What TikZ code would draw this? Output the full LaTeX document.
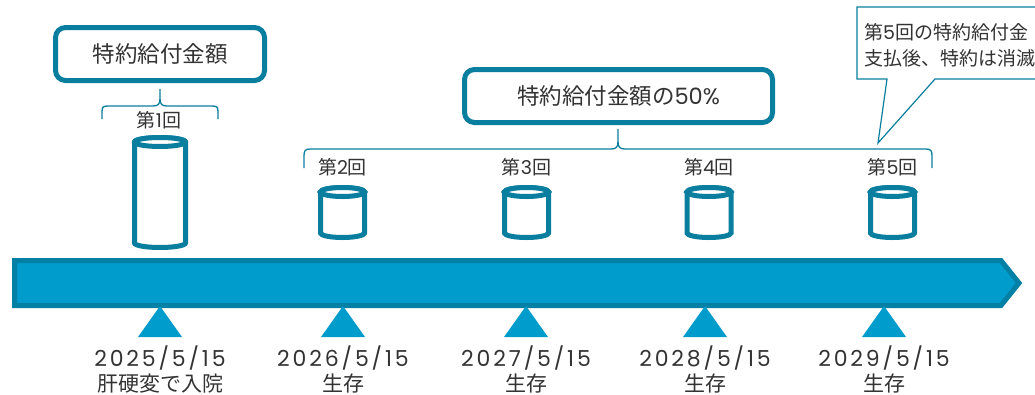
\documentclass[tikz,border=0pt]{standalone}
\usepackage{fontspec}
\setmainfont{Noto Sans CJK JP}
\newfontfamily\datefont[LetterSpace=13]{Poppins}
\newfontfamily\numf{Poppins}
\definecolor{teal1}{HTML}{0A7E9E}
\definecolor{barfill}{HTML}{009CCB}
\definecolor{barline}{HTML}{0580A5}
\definecolor{txt}{HTML}{333333}
\newcommand{\mydrum}[4]{%
  \draw[drum] (#1-#4,#2) -- (#1-#4,#3) arc[start angle=180,end angle=360,x radius=#4,y radius=4.5] -- (#1+#4,#2) arc[start angle=0,end angle=180,x radius=#4,y radius=4.5] -- cycle;
  \draw[drum] (#1,#2) ellipse[x radius=#4, y radius=4.5];}
\begin{document}
\begin{tikzpicture}[x=1pt,y=1pt,
  boxstyle/.style={draw=teal1, line width=5pt, rounded corners=10pt, fill=white, text=txt, font=\fontsize{22.5}{26}\selectfont, inner sep=0pt},
  bracestyle/.style={draw=teal1, line width=1.3pt},
  drum/.style={draw=teal1, line width=5pt, fill=white},
  lbl/.style={text=txt, font=\fontsize{19}{22}\selectfont, inner sep=0pt},
  datestyle/.style={text=txt, font=\datefont\fontsize{22}{26}\selectfont, inner sep=0pt},
  substyle/.style={text=txt, font=\fontsize{21}{24}\selectfont, inner sep=0pt},
  tri/.style={fill=barfill},
  callout/.style={draw=teal1, line width=1.2pt, fill=white}]
\useasboundingbox (0,0) rectangle (1035,-394);
\clip (0,0) rectangle (1035,-394);

% boxes
\node[boxstyle, minimum width=209pt, minimum height=53pt] (b1) at (160,-54) {特約給付金額};
\node[boxstyle, minimum width=308pt, minimum height=53pt] (b2) at (618.5,-96) {特約給付金額の{\numf 50\%}};

% brace 1
\draw[bracestyle] (102,-119) -- (102,-112) .. controls (102,-107) and (103,-106) .. (108,-106) -- (153,-106) .. controls (158,-106) and (160,-104) .. (160,-99) -- (160,-89);
\draw[bracestyle] (160,-99) .. controls (160,-104) and (162,-106) .. (167,-106) -- (212,-106) .. controls (217,-106) and (218,-107) .. (218,-112) -- (218,-119);
% brace 2
\draw[bracestyle] (304,-168) -- (304,-156) .. controls (304,-151) and (305,-149) .. (310,-149) -- (611,-149) .. controls (616,-149) and (618,-147) .. (618,-142) -- (618,-129);
\draw[bracestyle] (618,-142) .. controls (618,-147) and (620,-149) .. (625,-149) -- (926,-149) .. controls (931,-149) and (932,-151) .. (932,-156) -- (932,-168);

% labels
\node[lbl] (l1) at (159,-120) {第{\numf 1}回};
\node[lbl] (l2) at (342.5,-167) {第{\numf 2}回};
\node[lbl] (l3) at (526.5,-167) {第{\numf 3}回};
\node[lbl] (l4) at (709,-167) {第{\numf 4}回};
\node[lbl] (l5) at (892.5,-167) {第{\numf 5}回};

% cylinders
\mydrum{160}{-142}{-243}{25.5}
\mydrum{342.5}{-192}{-233}{22}
\mydrum{526.5}{-192}{-233}{22}
\mydrum{709}{-192}{-233}{22}
\mydrum{892.5}{-192}{-233}{22}

% callout
\draw[callout] (857,-7) -- (1050,-7) -- (1050,-79) -- (935,-79) -- (878,-143) -- (887,-79) -- (857,-79) -- cycle;
\node[anchor=west, align=left, text=txt, font=\fontsize{19}{26}\selectfont, inner sep=0pt] (note) at (864,-45) {第{\numf 5}回の特約給付金\\支払後、特約は消滅};

% timeline bar
\draw[draw=barline, fill=barfill, line width=5pt, line join=miter] (14.5,-260.5) -- (1001,-260.5) -- (1019,-283) -- (1001,-305.5) -- (14.5,-305.5) -- cycle;

% triangles
\foreach \cx in {160,343,526,705,884} {
  \fill[tri] (\cx,-306) -- (\cx+22,-337) -- (\cx-22,-337) -- cycle;
}

% dates
\node[datestyle] (d1) at (160,-358) {2025/5/15};
\node[datestyle] (d2) at (343,-358) {2026/5/15};
\node[datestyle] (d3) at (526,-358) {2027/5/15};
\node[datestyle] (d4) at (705,-358) {2028/5/15};
\node[datestyle] (d5) at (884,-358) {2029/5/15};
\node[substyle] (s1) at (160,-384) {肝硬変で入院};
\node[substyle] (s2) at (343,-384) {生存};
\node[substyle] (s3) at (526,-384) {生存};
\node[substyle] (s4) at (705,-384) {生存};
\node[substyle] (s5) at (884,-384) {生存};
\end{tikzpicture}
\end{document}
